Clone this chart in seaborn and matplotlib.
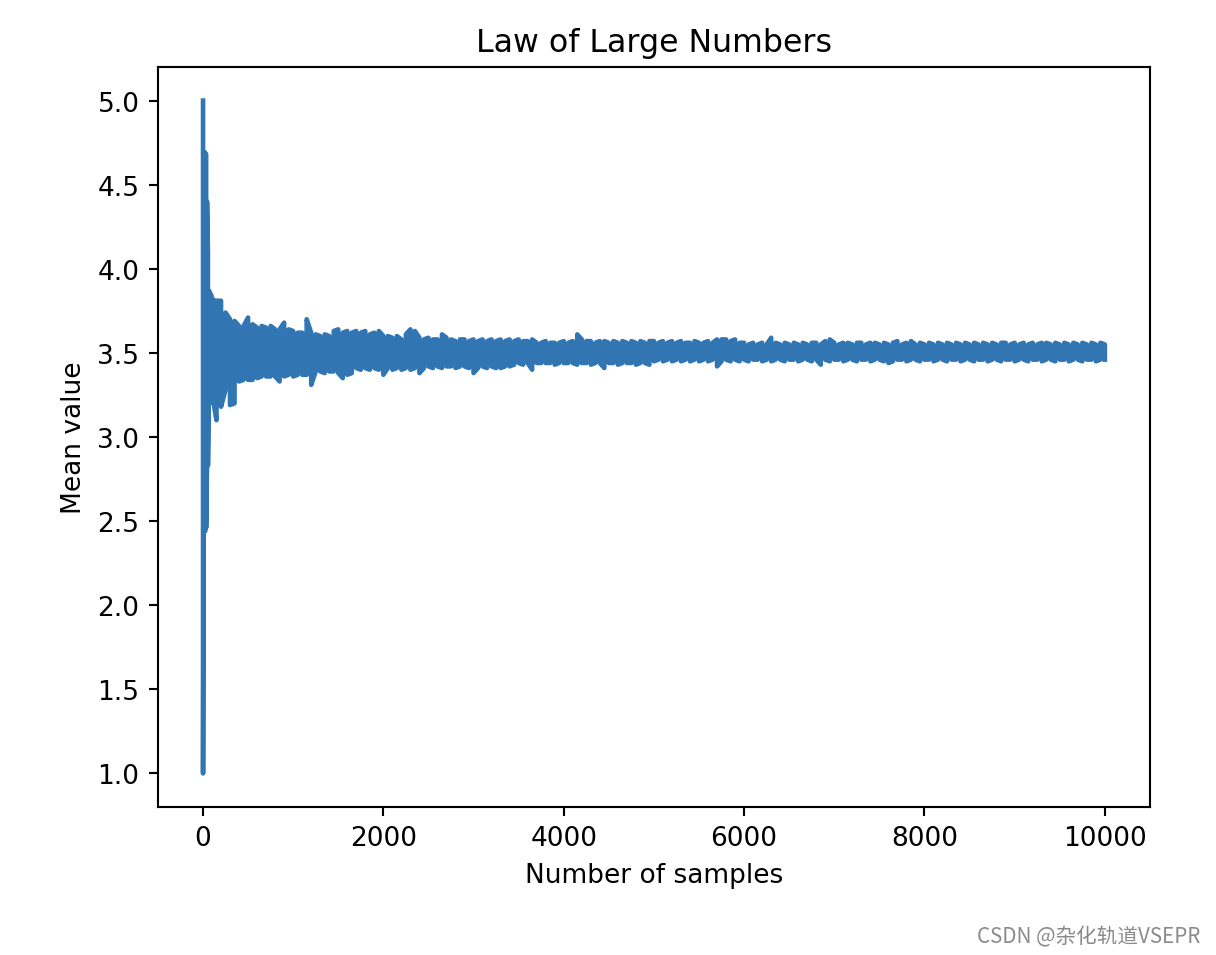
import matplotlib
matplotlib.use("Agg")
import matplotlib.pyplot as plt
import numpy as np
import pandas as pd
import seaborn as sns

# ---- data (envelope of the noisy running mean) ----
early_n = [1, 8, 16, 25, 35, 45, 55, 65, 75, 85, 95, 110, 125]
early_hi = [5.00, 4.69, 4.69, 4.69, 4.68, 4.40, 4.10, 3.87, 3.86, 3.85, 3.84, 3.82, 3.81]
early_lo = [1.00, 2.45, 2.44, 2.44, 2.46, 2.84, 2.83, 3.22, 3.23, 3.22, 3.21, 3.20, 3.18]

regular_n = list(range(150, 10001, 50))
regular_hi = [
    3.81, 3.81, 3.74, 3.70, 3.69, 3.66, 3.66, 3.71, 3.67, 3.65,
    3.66, 3.65, 3.66, 3.64, 3.64, 3.68, 3.64, 3.63, 3.62, 3.62,
    3.70, 3.62, 3.61, 3.60, 3.61, 3.60, 3.63, 3.64, 3.62, 3.63,
    3.62, 3.63, 3.62, 3.63, 3.61, 3.62, 3.63, 3.60, 3.60, 3.59,
    3.60, 3.58, 3.61, 3.64, 3.63, 3.59, 3.58, 3.59, 3.58, 3.58,
    3.61, 3.59, 3.58, 3.57, 3.58, 3.58, 3.57, 3.58, 3.57, 3.58,
    3.57, 3.58, 3.57, 3.58, 3.57, 3.58, 3.57, 3.58, 3.57, 3.57,
    3.58, 3.56, 3.56, 3.57, 3.56, 3.56, 3.56, 3.57, 3.56, 3.57,
    3.61, 3.58, 3.57, 3.57, 3.56, 3.57, 3.57, 3.56, 3.57, 3.56,
    3.57, 3.56, 3.57, 3.56, 3.57, 3.56, 3.57, 3.57, 3.56, 3.57,
    3.56, 3.57, 3.56, 3.57, 3.56, 3.56, 3.57, 3.56, 3.56, 3.57,
    3.56, 3.58, 3.58, 3.58, 3.57, 3.58, 3.56, 3.56, 3.55, 3.56,
    3.55, 3.56, 3.55, 3.59, 3.56, 3.55, 3.56, 3.55, 3.56, 3.55,
    3.56, 3.55, 3.56, 3.56, 3.55, 3.57, 3.58, 3.56, 3.55, 3.56,
    3.56, 3.55, 3.56, 3.56, 3.55, 3.56, 3.56, 3.55, 3.56, 3.55,
    3.56, 3.57, 3.55, 3.56, 3.57, 3.55, 3.56, 3.55, 3.56, 3.55,
    3.56, 3.55, 3.56, 3.55, 3.56, 3.55, 3.56, 3.55, 3.56, 3.55,
    3.56, 3.55, 3.56, 3.55, 3.56, 3.56, 3.55, 3.56, 3.55, 3.56,
    3.55, 3.56, 3.55, 3.56, 3.56, 3.55, 3.56, 3.55, 3.56, 3.55,
    3.56, 3.55, 3.56, 3.55, 3.56, 3.55, 3.56, 3.55,
]
regular_lo = [
    3.10, 3.18, 3.28, 3.19, 3.20, 3.33, 3.34, 3.34, 3.34, 3.35,
    3.36, 3.36, 3.36, 3.36, 3.33, 3.36, 3.37, 3.36, 3.37, 3.37,
    3.37, 3.31, 3.39, 3.39, 3.38, 3.39, 3.39, 3.38, 3.35, 3.37,
    3.38, 3.41, 3.40, 3.41, 3.40, 3.41, 3.40, 3.37, 3.41, 3.40,
    3.41, 3.40, 3.41, 3.40, 3.41, 3.38, 3.41, 3.42, 3.41, 3.42,
    3.41, 3.42, 3.42, 3.41, 3.42, 3.42, 3.41, 3.38, 3.41, 3.42,
    3.41, 3.42, 3.41, 3.41, 3.42, 3.42, 3.43, 3.44, 3.43, 3.44,
    3.40, 3.44, 3.44, 3.44, 3.44, 3.43, 3.44, 3.44, 3.44, 3.44,
    3.43, 3.44, 3.44, 3.43, 3.44, 3.44, 3.41, 3.44, 3.44, 3.43,
    3.44, 3.44, 3.44, 3.43, 3.44, 3.44, 3.43, 3.45, 3.46, 3.45,
    3.46, 3.45, 3.46, 3.45, 3.46, 3.45, 3.46, 3.45, 3.46, 3.45,
    3.46, 3.42, 3.45, 3.46, 3.45, 3.46, 3.45, 3.46, 3.45, 3.46,
    3.46, 3.45, 3.46, 3.45, 3.46, 3.46, 3.45, 3.46, 3.46, 3.45,
    3.46, 3.46, 3.45, 3.46, 3.43, 3.46, 3.45, 3.46, 3.46, 3.45,
    3.46, 3.46, 3.45, 3.46, 3.46, 3.45, 3.46, 3.46, 3.45, 3.44,
    3.45, 3.46, 3.46, 3.45, 3.46, 3.46, 3.45, 3.46, 3.46, 3.45,
    3.46, 3.46, 3.45, 3.46, 3.46, 3.45, 3.46, 3.46, 3.45, 3.46,
    3.46, 3.45, 3.46, 3.46, 3.45, 3.46, 3.46, 3.45, 3.46, 3.46,
    3.45, 3.46, 3.46, 3.45, 3.46, 3.46, 3.45, 3.46, 3.46, 3.45,
    3.46, 3.46, 3.45, 3.46, 3.46, 3.45, 3.46, 3.46,
]

title = "Law of Large Numbers"
x_label = "Number of samples"
y_label = "Mean value"
watermark = "CSDN @杂化轨道VSEPR"

# ---- build the traced series: serpentine path over the high/low readings ----
sample_n = early_n + regular_n
hi = early_hi + regular_hi
lo = early_lo + regular_lo
xs, ys = [], []
for i, (n, h, l) in enumerate(zip(sample_n, hi, lo)):
    xs.extend([n, n])
    ys.extend([h, l] if i % 2 == 0 else [l, h])
df = pd.DataFrame({"n": xs, "mean": ys})

# ---- figure ----
DPI = 190
fig = plt.figure(figsize=(1216 / DPI, 956 / DPI), dpi=DPI)
ax = fig.add_axes([0.1299, 0.1548, 0.8158, 0.7741])

sns.lineplot(data=df, x="n", y="mean", estimator=None, sort=False,
             color="#3176b3", linewidth=1.75, ax=ax)

ax.set_title(title, fontsize=12)
ax.set_xlabel(x_label, fontsize=10)
ax.set_ylabel(y_label, fontsize=10)
ax.set_xticks([0, 2000, 4000, 6000, 8000, 10000])
ax.set_yticks([1.0, 1.5, 2.0, 2.5, 3.0, 3.5, 4.0, 4.5, 5.0])
ax.tick_params(labelsize=10)

fig.text(0.987, 0.008, watermark, ha="right", va="bottom", fontsize=7.8,
         color="#8a8a8a", family=["Noto Sans CJK SC", "DejaVu Sans"])

fig.savefig("out.png", dpi=DPI)
